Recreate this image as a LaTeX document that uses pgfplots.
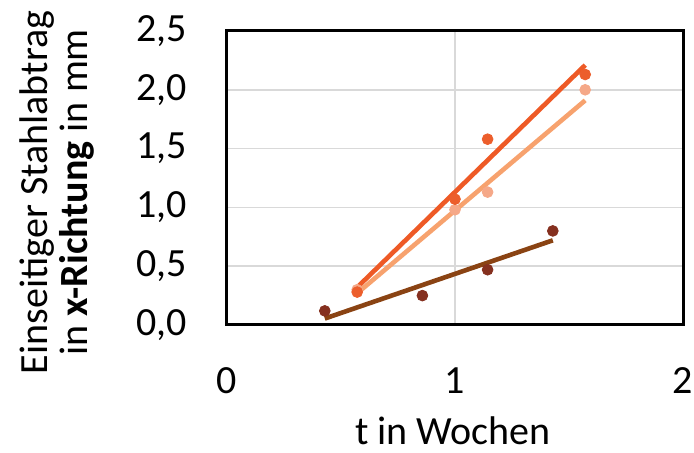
\documentclass[border=0pt]{standalone}
\usepackage{pgfplots}
\pgfplotsset{compat=1.18}
\usepackage{fontspec}
\setmainfont{Carlito}
\definecolor{darkline}{HTML}{8A4313}
\definecolor{darkpt}{HTML}{85301F}
\definecolor{orline}{HTML}{EE5A26}
\definecolor{orpt}{HTML}{EC5E2C}
\definecolor{peline}{HTML}{F7A26E}
\definecolor{pept}{HTML}{F5A888}
\begin{document}
\begin{tikzpicture}
\begin{axis}[
  scale only axis,
  width=228pt, height=147pt,
  xmin=0, xmax=2, ymin=0, ymax=2.5,
  xtick={0,1,2}, ytick={0,0.5,1,1.5,2,2.5},
  major tick length=0pt,
  grid=major,
  major grid style={draw=black!15, line width=0.8pt},
  axis line style={line width=1.5pt, black},
  font=\fontsize{20}{24}\selectfont,
  /pgf/number format/assume math mode=true,
  yticklabel style={anchor=east, inner sep=0pt, xshift=-20pt,
    /pgf/number format/.cd, fixed, fixed zerofill, precision=1, use comma},
  xticklabel style={anchor=north, inner sep=0pt, yshift=-21pt,
    /pgf/number format/.cd, fixed, precision=0},
  xlabel={t in Wochen},
  xlabel style={at={(axis description cs:0.4956,-0.408)}, anchor=base, inner sep=0pt},
  ylabel={Einseitiger Stahlabtrag\\in \textbf{x-Richtung} in mm},
  ylabel style={at={(axis description cs:-0.373,0.451)}, anchor=center, rotate=0,
    inner sep=0pt, align=center, font=\fontsize{20}{20}\selectfont},
  clip=false,
]
% dark brown series
\addplot[only marks, mark=*, mark size=2.7pt, color=darkpt] coordinates {
  (0.429,0.12) (0.857,0.25) (1.143,0.47) (1.429,0.80)};
\addplot[line width=2.3pt, color=darkline, no marks] coordinates {
  (0.429,0.055) (1.429,0.72)};
% peach series
\addplot[only marks, mark=*, mark size=2.7pt, color=pept] coordinates {
  (0.571,0.30) (1.0,0.98) (1.143,1.13) (1.571,2.00)};
\addplot[line width=2.3pt, color=peline, no marks] coordinates {
  (0.571,0.27) (1.571,1.91)};
% orange series
\addplot[only marks, mark=*, mark size=2.7pt, color=orpt] coordinates {
  (0.571,0.28) (1.0,1.07) (1.143,1.58) (1.571,2.13)};
\addplot[line width=2.3pt, color=orline, no marks] coordinates {
  (0.571,0.32) (1.571,2.21)};
\end{axis}
\pgfresetboundingbox
\path[use as bounding box] ([xshift=-113.5pt,yshift=-64pt]current axis.south west) rectangle ([xshift=5.5pt,yshift=15.5pt]current axis.north east);
\end{tikzpicture}
\end{document}
